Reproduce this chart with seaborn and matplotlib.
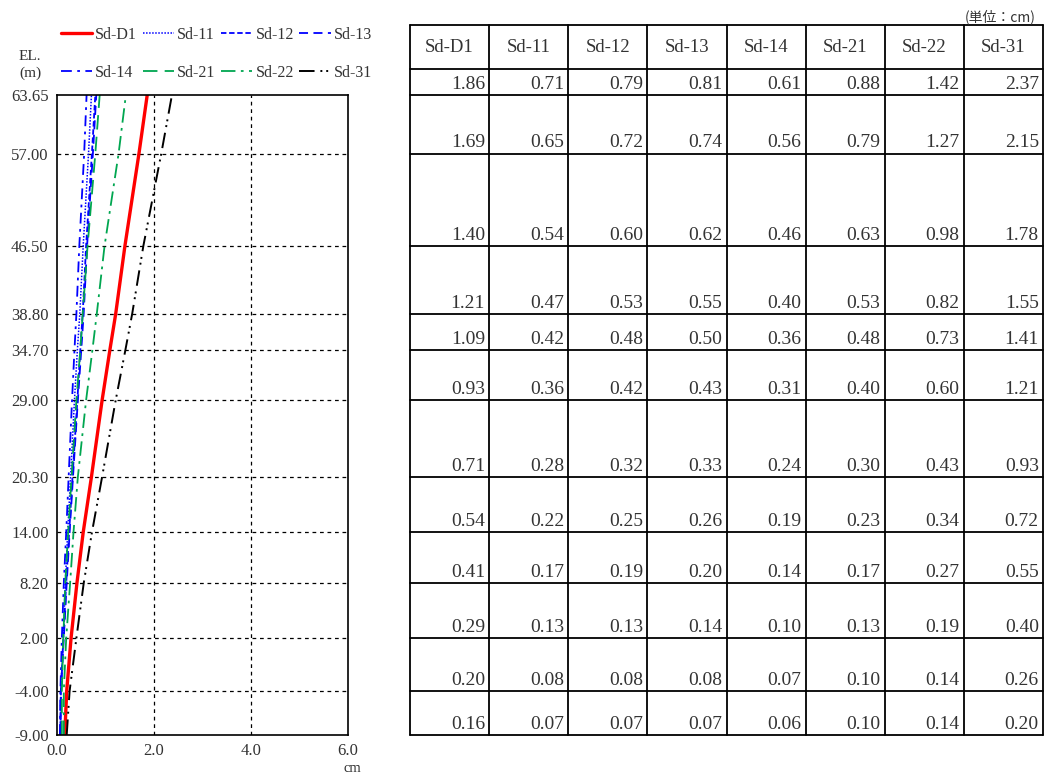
import matplotlib
matplotlib.use("Agg")
import matplotlib.pyplot as plt
import seaborn as sns
import numpy as np

sns.set_theme(style="white")
plt.rcParams['font.family'] = ['Liberation Serif', 'Noto Sans CJK JP']

# ---- data ----
elevations = [63.65, 57.00, 46.50, 38.80, 34.70, 29.00, 20.30, 14.00, 8.20, 2.00, -4.00, -9.00]
elev_labels = ["63.65", "57.00", "46.50", "38.80", "34.70", "29.00", "20.30",
               "14.00", "8.20", "2.00", "-4.00", "-9.00"]
series_names = ["Sd-D1", "Sd-11", "Sd-12", "Sd-13", "Sd-14", "Sd-21", "Sd-22", "Sd-31"]
sd_d1 = [1.86, 1.69, 1.40, 1.21, 1.09, 0.93, 0.71, 0.54, 0.41, 0.29, 0.20, 0.16]
sd_11 = [0.71, 0.65, 0.54, 0.47, 0.42, 0.36, 0.28, 0.22, 0.17, 0.13, 0.08, 0.07]
sd_12 = [0.79, 0.72, 0.60, 0.53, 0.48, 0.42, 0.32, 0.25, 0.19, 0.13, 0.08, 0.07]
sd_13 = [0.81, 0.74, 0.62, 0.55, 0.50, 0.43, 0.33, 0.26, 0.20, 0.14, 0.08, 0.07]
sd_14 = [0.61, 0.56, 0.46, 0.40, 0.36, 0.31, 0.24, 0.19, 0.14, 0.10, 0.07, 0.06]
sd_21 = [0.88, 0.79, 0.63, 0.53, 0.48, 0.40, 0.30, 0.23, 0.17, 0.13, 0.10, 0.10]
sd_22 = [1.42, 1.27, 0.98, 0.82, 0.73, 0.60, 0.43, 0.34, 0.27, 0.19, 0.14, 0.14]
sd_31 = [2.37, 2.15, 1.78, 1.55, 1.41, 1.21, 0.93, 0.72, 0.55, 0.40, 0.26, 0.20]
x_ticks = [0, 2, 4, 6]
x_tick_labels = ["0.0", "2.0", "4.0", "6.0"]

series_values = [sd_d1, sd_11, sd_12, sd_13, sd_14, sd_21, sd_22, sd_31]

blue = "#0000ff"
green = "#00a650"
styles = [
    dict(color="#ff0000", lw=2.4, ls="-"),
    dict(color=blue, lw=1.1, ls=(0, (1, 1))),
    dict(color=blue, lw=1.3, ls=(0, (3, 1.5))),
    dict(color=blue, lw=1.3, ls=(0, (5, 3))),
    dict(color=blue, lw=1.3, ls=(0, (6, 3, 1.5, 3))),
    dict(color=green, lw=1.3, ls=(0, (8, 4))),
    dict(color=green, lw=1.3, ls=(0, (8, 3, 1.5, 3))),
    dict(color="black", lw=1.4, ls=(0, (8, 3, 1, 2, 1, 3))),
]
txt_color = "#333333"

W, H = 1048, 776
fig = plt.figure(figsize=(W / 100, H / 100), dpi=100)

def px_axes(x0, y0, x1, y1):
    return fig.add_axes([x0 / W, 1 - y1 / H, (x1 - x0) / W, (y1 - y0) / H])

# ---- profile plot ----
ax = px_axes(57, 95, 348, 735)
ymin, ymax = -9.0, 63.65
for name, vals, st in zip(series_names, series_values, styles):
    sns.lineplot(x=vals, y=elevations, orient="y", ax=ax, color=st["color"],
                 linewidth=st["lw"], linestyle=st["ls"], label=name, legend=False)
ax.set_xlim(0, 6)
ax.set_ylim(ymin, ymax)
ax.set_xticks(x_ticks)
ax.set_xticklabels(x_tick_labels, fontsize=12)
ax.set_yticks(elevations)
ax.set_yticklabels(elev_labels, fontsize=12)
ax.tick_params(axis="both", length=0, pad=6, colors=txt_color)
for e in elevations[1:-1]:
    ax.axhline(e, color="black", lw=0.9, ls=(0, (3, 3)), zorder=0)
for xv in [2, 4]:
    ax.axvline(xv, color="black", lw=0.9, ls=(0, (3, 3)), zorder=0)
for s in ax.spines.values():
    s.set_color("black")
    s.set_linewidth(1.2)
ax.set_xlabel("")
ax.set_ylabel("")
fig.text(30 / W, 1 - 65 / H, "EL.\n(m)", ha="center", va="center", fontsize=11,
         color=txt_color, linespacing=1.3)
fig.text(352 / W, 1 - 768 / H, "cm", ha="center", va="center", fontsize=10.5, color=txt_color)

handles, labels = ax.get_legend_handles_labels()
order = [0, 4, 1, 5, 2, 6, 3, 7]
fig.legend([handles[i] for i in order], [labels[i] for i in order], ncol=4,
           loc="upper left", bbox_to_anchor=(61 / W, 1 - 27 / H), frameon=False,
           fontsize=11.5, handlelength=1.95, handletextpad=0.2, columnspacing=0.35,
           labelspacing=1.35, borderaxespad=0, borderpad=0, labelcolor=txt_color)

# ---- table ----
ppu = (735 - 95) / (ymax - ymin)
hdr_y = ymax + 26 / ppu
top_y = ymax + 70 / ppu
tx = px_axes(410, 25, 1043, 735)
tx.set_xlim(0, len(series_names))
tx.set_ylim(ymin, top_y)
tx.axis("off")
lw_t = 1.3
for c in range(len(series_names) + 1):
    tx.plot([c, c], [ymin, top_y], color="black", lw=lw_t, clip_on=False)
for yv in [top_y, hdr_y] + elevations:
    tx.plot([0, len(series_names)], [yv, yv], color="black", lw=lw_t, clip_on=False)
for c, name in enumerate(series_names):
    tx.text(c + 0.5, (hdr_y + top_y) / 2, name, ha="center", va="center",
            fontsize=13.5, color=txt_color)
    for e, v in zip(elevations, series_values[c]):
        tx.annotate(f"{v:.2f}", xy=(c + 1, e), xytext=(-3, 1.5),
                    textcoords="offset points", ha="right", va="bottom",
                    fontsize=14, color=txt_color)
fig.text(1036 / W, 1 - 17 / H, "(単位：cm)", ha="right", va="center", fontsize=10,
         color=txt_color, family=["Noto Sans CJK JP", "DejaVu Sans"])

fig.savefig("out.png", dpi=100)
